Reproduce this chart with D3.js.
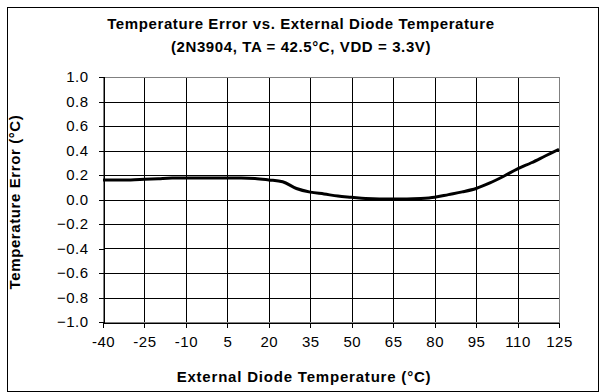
<!DOCTYPE html>
<html>
<head>
<meta charset="utf-8">
<script src="https://cdn.jsdelivr.net/npm/d3@7"></script>
<style>
  html, body { margin: 0; padding: 0; background: #fff; }
  svg text { font-family: "Liberation Sans", Arial, sans-serif; fill: #000; }
</style>
</head>
<body>
<svg id="chart" width="606" height="392"></svg>
<script>
// Diode temperature (°C) and measured temperature error (°C)
const diodeTemp = [-40, -35, -30, -25, -20, -15, -10, -5, 0, 5, 10, 15, 20, 25, 30, 35, 40, 45, 50, 55, 60, 65, 70, 75, 80, 85, 90, 95, 100, 105, 110, 115, 120, 125];
const tempError = [0.16, 0.16, 0.16, 0.165, 0.17, 0.175, 0.175, 0.175, 0.175, 0.175, 0.175, 0.172, 0.16, 0.145, 0.09, 0.06, 0.045, 0.028, 0.018, 0.008, 0.004, 0.004, 0.004, 0.008, 0.018, 0.04, 0.062, 0.09, 0.135, 0.19, 0.25, 0.30, 0.355, 0.41];
const xTicks = [-40, -25, -10, 5, 20, 35, 50, 65, 80, 95, 110, 125];
const yTicks = [-1.0, -0.8, -0.6, -0.4, -0.2, 0.0, 0.2, 0.4, 0.6, 0.8, 1.0];
const titleLines = ["Temperature Error vs. External Diode Temperature", "(2N3904, TA = 42.5°C, VDD = 3.3V)"];
const xTitle = "External Diode Temperature (°C)";
const yTitle = "Temperature Error (°C)";

const svg = d3.select("#chart");
const plot = { left: 103, right: 559, top: 77, bottom: 322 };

// outer chart frame
svg.append("rect")
  .attr("x", 7.5).attr("y", 7.5).attr("width", 591).attr("height", 384)
  .attr("fill", "#fff").attr("stroke", "#000").attr("stroke-width", 1);

const x = d3.scaleLinear().domain([-40, 125]).range([plot.left, plot.right]);
const y = d3.scaleLinear().domain([-1, 1]).range([plot.bottom, plot.top]);

// grid
const grid = svg.append("g").attr("shape-rendering", "crispEdges");
grid.selectAll("line.h").data(yTicks).join("line")
  .attr("x1", plot.left).attr("x2", plot.right)
  .attr("y1", d => Math.round(y(d)) + 0.5).attr("y2", d => Math.round(y(d)) + 0.5)
  .attr("stroke", "#000").attr("stroke-width", 1);
grid.selectAll("line.v").data(xTicks).join("line")
  .attr("y1", plot.top).attr("y2", plot.bottom)
  .attr("x1", d => Math.round(x(d)) + 0.5).attr("x2", d => Math.round(x(d)) + 0.5)
  .attr("stroke", "#000").attr("stroke-width", 1);
// plot area border
grid.append("rect")
  .attr("x", plot.left + 0.5).attr("y", plot.top + 0.5)
  .attr("width", plot.right - plot.left).attr("height", plot.bottom - plot.top)
  .attr("fill", "none").attr("stroke", "#808080");

// axes
const yAxis = svg.append("g")
  .attr("transform", `translate(${plot.left + 0.5},0)`)
  .call(d3.axisLeft(y).tickValues(yTicks).tickFormat(d3.format(".1f")).tickSize(5).tickPadding(10));
const xAxis = svg.append("g")
  .attr("transform", `translate(0,${plot.bottom + 0.5})`)
  .call(d3.axisBottom(x).tickValues(xTicks).tickFormat(d => d).tickSize(5).tickPadding(9));
[xAxis, yAxis].forEach(a => {
  a.select(".domain").attr("stroke", "#000").attr("shape-rendering", "crispEdges");
  a.selectAll(".tick line").attr("stroke", "#000").attr("shape-rendering", "crispEdges");
  a.selectAll(".tick text")
    .attr("font-size", 15)
    .attr("letter-spacing", "0.5px")
    .attr("font-family", "Liberation Sans, Arial, sans-serif")
    .attr("fill", "#000");
});

// error curve
const line = d3.line()
  .x((d, i) => x(diodeTemp[i]))
  .y(d => y(d))
  .curve(d3.curveMonotoneX);
svg.append("path")
  .datum(tempError)
  .attr("d", line)
  .attr("fill", "none")
  .attr("stroke", "#000")
  .attr("stroke-width", 3)
  .attr("stroke-linejoin", "round");

// titles
svg.selectAll("text.title").data(titleLines).join("text")
  .attr("class", "title")
  .attr("x", 301).attr("y", (d, i) => 29 + i * 23)
  .attr("text-anchor", "middle")
  .attr("font-size", 15).attr("font-weight", "bold")
  .attr("letter-spacing", "0.6px")
  .text(d => d);

svg.append("text")
  .attr("x", 304).attr("y", 382)
  .attr("text-anchor", "middle")
  .attr("font-size", 15).attr("font-weight", "bold")
  .attr("letter-spacing", "0.8px")
  .text(xTitle);

svg.append("text")
  .attr("transform", `translate(20,202) rotate(-90)`)
  .attr("text-anchor", "middle")
  .attr("font-size", 15).attr("font-weight", "bold")
  .attr("letter-spacing", "0.6px")
  .text(yTitle);
</script>
</body>
</html>
